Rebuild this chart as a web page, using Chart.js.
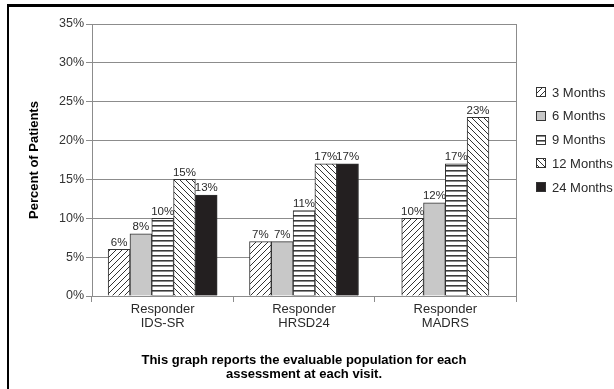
<!DOCTYPE html>
<html>
<head>
<meta charset="utf-8">
<script src="https://cdn.jsdelivr.net/npm/chart.js@4/dist/chart.umd.min.js"></script>
<style>
  html, body { margin: 0; padding: 0; background: #fff; overflow: hidden; }
  #wrap { position: relative; width: 614px; height: 389px; }
  #frame { position: absolute; left: 7px; top: 4px; width: 640px; height: 420px;
           border-top: 3px solid #000; border-left: 2px solid #000; pointer-events: none; }
  canvas { position: absolute; left: 0; top: 0; }
</style>
</head>
<body>
<div id="wrap">
  <canvas id="chart" width="614" height="389"></canvas>
  <div id="frame"></div>
</div>
<script>
// Response rates by assessment instrument and visit
const categories = [
  ["Responder", "IDS-SR"],
  ["Responder", "HRSD24"],
  ["Responder", "MADRS"]
];
const seriesNames = ["3 Months", "6 Months", "9 Months", "12 Months", "24 Months"];
const months3  = [6, 7, 10];
const months6  = [8, 7, 12];
const months9  = [10, 11, 17];
const months12 = [15, 17, 23];
const months24 = [13, 17, null];
const percentTicks = [0, 5, 10, 15, 20, 25, 30, 35];
const yAxisTitle = "Percent of Patients";
const caption = [
  "This graph reports the evaluable population for each",
  "assessment at each visit."
];

const INK = '#2a2a2a';
const GRID = '#8c8c8c';
const FONT = "'Liberation Sans', Arial, sans-serif";

// Hatch fills for the bars
function hatch(kind) {
  const c = document.createElement('canvas');
  const g = c.getContext('2d');
  if (kind === 'horiz') {
    c.width = 4; c.height = 5;
    g.fillStyle = '#fff'; g.fillRect(0, 0, 4, 5);
    g.fillStyle = '#3a3a3a'; g.fillRect(0, 0, 4, 1);
    g.fillStyle = '#8a8a8a'; g.fillRect(0, 1, 4, 1);
  } else {
    const s = 6;
    c.width = s; c.height = s;
    g.fillStyle = '#fff'; g.fillRect(0, 0, s, s);
    g.strokeStyle = '#333'; g.lineWidth = 1;
    g.beginPath();
    if (kind === 'up') {
      g.moveTo(0, s); g.lineTo(s, 0);
      g.moveTo(-1, 1); g.lineTo(1, -1);
      g.moveTo(s - 1, s + 1); g.lineTo(s + 1, s - 1);
    } else {
      g.moveTo(0, 0); g.lineTo(s, s);
      g.moveTo(-1, s - 1); g.lineTo(1, s + 1);
      g.moveTo(s - 1, -1); g.lineTo(s + 1, 1);
    }
    g.stroke();
  }
  return g.createPattern(c, 'repeat');
}

const fills = [hatch('up'), '#c8c8c8', hatch('horiz'), hatch('down'), '#231f20'];
const seriesValues = [months3, months6, months9, months12, months24];

const datasets = seriesValues.map((vals, i) => ({
  label: seriesNames[i],
  data: vals,
  backgroundColor: fills[i],
  borderColor: '#333',
  borderWidth: 1,
  barThickness: 21.8,
  skipNull: true
}));

// Percentage labels above each bar
const valueLabels = {
  id: 'valueLabels',
  afterDatasetsDraw(chart) {
    const ctx = chart.ctx;
    ctx.save();
    ctx.font = '11.5px ' + FONT;
    ctx.fillStyle = INK;
    ctx.textAlign = 'center';
    ctx.textBaseline = 'bottom';
    chart.data.datasets.forEach((ds, di) => {
      const meta = chart.getDatasetMeta(di);
      meta.data.forEach((bar, j) => {
        const v = ds.data[j];
        if (v === null || v === undefined) return;
        ctx.fillText(v + '%', bar.x, bar.y - 1);
      });
    });
    ctx.restore();
  }
};

// Right edge of the plot frame and the side legend
const frameAndLegend = {
  id: 'frameAndLegend',
  afterDraw(chart) {
    const ctx = chart.ctx;
    const a = chart.chartArea;
    ctx.save();
    ctx.strokeStyle = GRID;
    ctx.lineWidth = 1;
    ctx.beginPath();
    ctx.moveTo(Math.round(a.right) + 0.5, a.top);
    ctx.lineTo(Math.round(a.right) + 0.5, a.bottom);
    ctx.stroke();

    ctx.font = '13px ' + FONT;
    ctx.textBaseline = 'middle';
    ctx.textAlign = 'left';
    chart.data.datasets.forEach((ds, i) => {
      const yc = 92 + i * 23.8;
      const bx = 536, by = Math.round(yc - 5);
      ctx.fillStyle = ds.backgroundColor;
      ctx.fillRect(bx, by, 10, 10);
      ctx.strokeStyle = '#333';
      ctx.strokeRect(bx + 0.5, by + 0.5, 9, 9);
      ctx.fillStyle = INK;
      ctx.fillText(ds.label, 552, yc + 1);
    });
    ctx.restore();
  }
};

new Chart(document.getElementById('chart'), {
  type: 'bar',
  data: { labels: categories, datasets },
  plugins: [valueLabels, frameAndLegend],
  options: {
    responsive: false,
    animation: false,
    layout: { padding: { top: 24, right: 98, bottom: 0, left: 0 } },
    plugins: {
      legend: { display: false },
      tooltip: { enabled: false }
    },
    scales: {
      x: {
        grid: {
          offset: true,
          drawOnChartArea: false,
          drawTicks: true,
          tickLength: 6,
          color: GRID
        },
        border: { color: GRID },
        ticks: {
          padding: 0,
          color: INK,
          font: { family: FONT, size: 13, lineHeight: 1.08 }
        },
        title: {
          display: true,
          text: caption,
          color: '#000',
          font: { family: FONT, size: 13, weight: 'bold', lineHeight: 1.04 },
          padding: { top: 0, bottom: 8 }
        },
        afterFit(scale) { scale.height = 93; }
      },
      y: {
        min: 0,
        max: 35,
        afterBuildTicks(scale) {
          scale.ticks = percentTicks.map(v => ({ value: v }));
        },
        grid: { color: GRID, tickLength: 6 },
        border: { color: GRID },
        ticks: {
          padding: 2,
          color: '#333',
          font: { family: FONT, size: 12.5 },
          callback: v => v + '%'
        },
        title: {
          display: true,
          text: yAxisTitle,
          color: '#000',
          font: { family: FONT, size: 13, weight: 'bold', lineHeight: 1.2 },
          padding: { top: 27, bottom: 0 }
        },
        afterFit(scale) { scale.width = 92; }
      }
    }
  }
});
</script>
</body>
</html>
